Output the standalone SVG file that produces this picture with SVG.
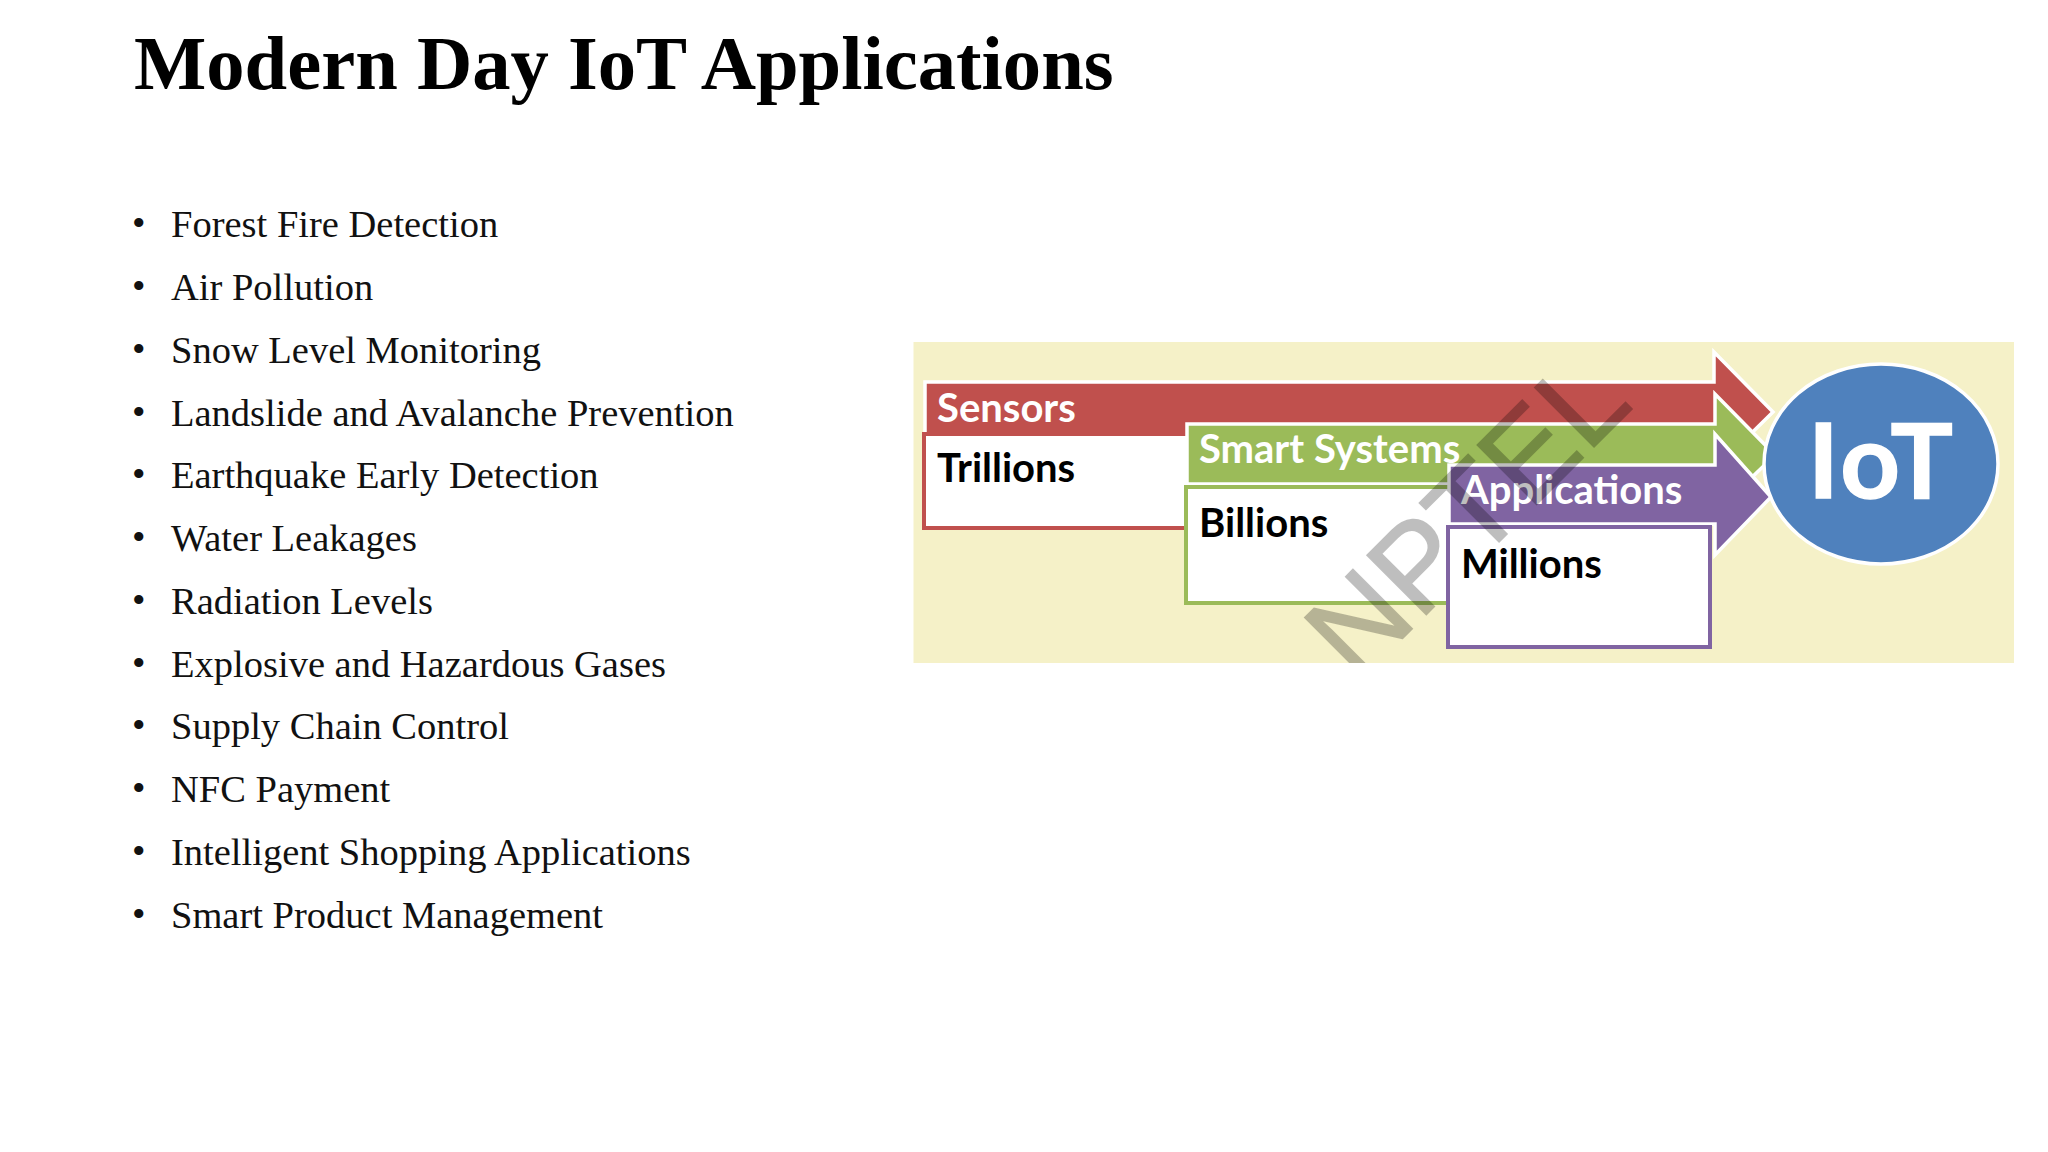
<svg xmlns="http://www.w3.org/2000/svg" width="2048" height="1152" viewBox="0 0 2048 1152">
<style>
.title{font:bold 76.6px "Liberation Serif",serif;fill:#000}
.item{font:38.5px "Liberation Serif",serif;fill:#111}
.hd{font:bold 40px Lato,"Open Sans",sans-serif;fill:#fff}
.val{font:bold 40px Lato,"Open Sans",sans-serif;fill:#000}
.arrow{stroke:#fff;stroke-width:3.5}
.box{fill:#fff;stroke-width:4}
.wm{font:122px "Liberation Sans",sans-serif;fill:#000;stroke:#000;stroke-width:1.5}
</style>
<defs><clipPath id="panelClip"><rect x="0" y="0" width="2048" height="663"/></clipPath></defs>
<rect width="2048" height="1152" fill="#fff"/>
<text class="title" x="134" y="89">Modern Day IoT Applications</text>
<g id="list">
<text class="item" x="132" y="236">•</text><text class="item" x="171" y="237">Forest Fire Detection</text>
<text class="item" x="132" y="299">•</text><text class="item" x="171" y="300">Air Pollution</text>
<text class="item" x="132" y="362">•</text><text class="item" x="171" y="363">Snow Level Monitoring</text>
<text class="item" x="132" y="425">•</text><text class="item" x="171" y="426">Landslide and Avalanche Prevention</text>
<text class="item" x="132" y="487">•</text><text class="item" x="171" y="488">Earthquake Early Detection</text>
<text class="item" x="132" y="550">•</text><text class="item" x="171" y="551">Water Leakages</text>
<text class="item" x="132" y="613">•</text><text class="item" x="171" y="614">Radiation Levels</text>
<text class="item" x="132" y="676">•</text><text class="item" x="171" y="677">Explosive and Hazardous Gases</text>
<text class="item" x="132" y="738">•</text><text class="item" x="171" y="739">Supply Chain Control</text>
<text class="item" x="132" y="801">•</text><text class="item" x="171" y="802">NFC Payment</text>
<text class="item" x="132" y="864">•</text><text class="item" x="171" y="865">Intelligent Shopping Applications</text>
<text class="item" x="132" y="927">•</text><text class="item" x="171" y="928">Smart Product Management</text>
</g>
<rect id="panel" x="913.5" y="342" width="1100.5" height="321" fill="#F5F1C8"/>
<g id="sensors">
<polygon class="arrow" fill="#C0504D" points="925,382 1714,382 1714,352 1773,412 1714,470 1714,434 925,434"/>
<rect class="box" x="924" y="434" width="300" height="94" stroke="#C0504D"/>
<text class="hd" x="937" y="422">Sensors</text>
<text class="val" x="937" y="482">Trillions</text>
</g>
<g id="smart-systems">
<polygon class="arrow" fill="#9BBB59" points="1187,424 1715,424 1715,394 1775,455 1715,513 1715,484 1187,484"/>
<rect class="box" x="1186" y="487" width="290" height="116" stroke="#9BBB59"/>
<text class="hd" x="1199" y="463">Smart Systems</text>
<text class="val" x="1199" y="537">Billions</text>
</g>
<g id="applications">
<polygon class="arrow" fill="#8064A2" points="1449,465 1715,465 1715,434 1771,497 1715,555 1715,524 1449,524"/>
<rect class="box" x="1448" y="527" width="262" height="120" stroke="#8064A2"/>
<text class="hd" x="1461" y="504">Applications</text>
<text class="val" x="1461" y="578">Millions</text>
</g>
<g id="iot">
<ellipse cx="1881" cy="464" rx="117" ry="100" fill="#4F81BD" stroke="#fff" stroke-width="3.5"/>
<text x="1808" y="498" style="font:bold 104px Lato,'Open Sans',sans-serif;letter-spacing:3px;fill:#fff;stroke:#fff;stroke-width:1.5">IoT</text>
</g>
<g id="watermark" clip-path="url(#panelClip)" opacity=".25">
<text class="wm" transform="translate(1357 684) rotate(-45)">NPTEL</text>
</g>
</svg>
